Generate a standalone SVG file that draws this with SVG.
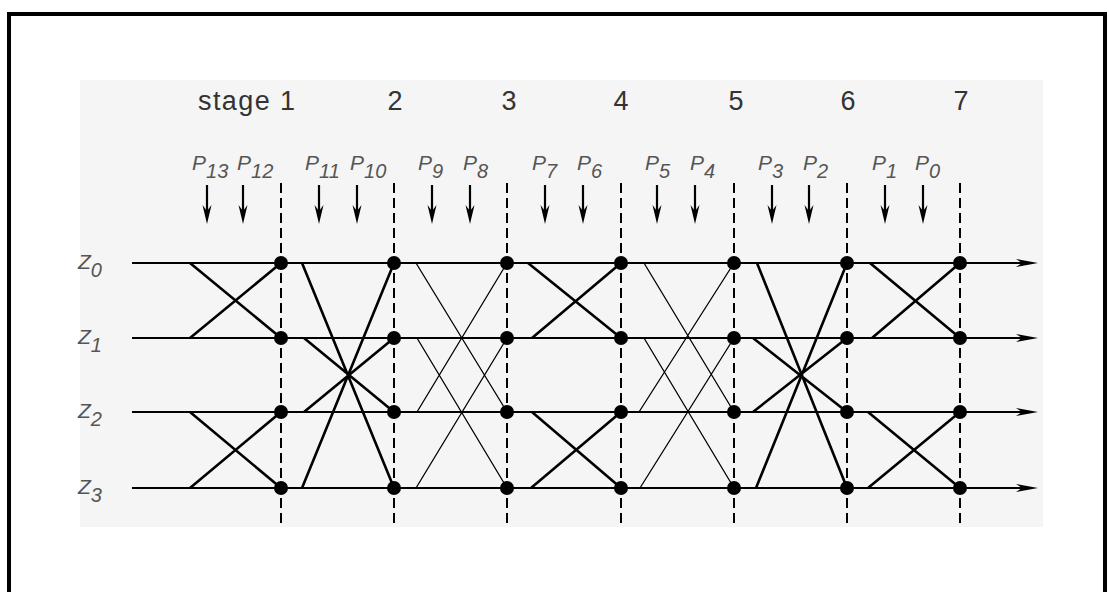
<svg xmlns="http://www.w3.org/2000/svg" xmlns:xlink="http://www.w3.org/1999/xlink" width="1109" height="592" viewBox="0 0 1109 592">
<style>
.frame{fill:none;stroke:#000;stroke-width:4}
.bg{fill:#f5f5f5}
.num{font-family:"Liberation Sans",Arial,sans-serif;font-size:27px;fill:#333}
.lbl{font-family:"Liberation Sans",Arial,sans-serif;font-style:italic;font-size:21px;fill:#555}
.sub{font-size:20px}
.wire{stroke:#000;stroke-width:2.2;fill:none}
.thick{stroke:#000;stroke-width:2.6;fill:none}
.thin{stroke:#000;stroke-width:1.3;fill:none}
.stage{stroke:#000;stroke-width:2;stroke-dasharray:10 5;fill:none}
.dot{fill:#000}
</style>
<defs>
<g id="parrow">
<line x1="0" y1="0" x2="0" y2="30" stroke="#000" stroke-width="2.2"/>
<path d="M-4.5,20 L0,39 L4.5,20 L0,26 Z" fill="#000"/>
</g>
<path id="endarrow" d="M-22,-4 L0,0 L-22,4 L-16,0 Z"/>
</defs>
<rect width="1109" height="592" fill="#fff"/>
<path class="frame" d="M9,600 V14 H1105 V600"/>
<rect class="bg" x="80" y="80" width="963" height="447"/>

<g id="stage-labels">
<text class="num" x="198" y="110" textLength="97" lengthAdjust="spacing">stage 1</text>
<text class="num" x="395" y="110" text-anchor="middle">2</text>
<text class="num" x="509" y="110" text-anchor="middle">3</text>
<text class="num" x="621" y="110" text-anchor="middle">4</text>
<text class="num" x="736" y="110" text-anchor="middle">5</text>
<text class="num" x="848" y="110" text-anchor="middle">6</text>
<text class="num" x="961" y="110" text-anchor="middle">7</text>
</g>

<g id="p-labels">
<text class="lbl" x="192" y="170">P<tspan class="sub" dy="8">13</tspan></text>
<text class="lbl" x="237" y="170">P<tspan class="sub" dy="8">12</tspan></text>
<text class="lbl" x="305" y="170">P<tspan class="sub" dy="8">11</tspan></text>
<text class="lbl" x="350" y="170">P<tspan class="sub" dy="8">10</tspan></text>
<text class="lbl" x="418" y="170">P<tspan class="sub" dy="8">9</tspan></text>
<text class="lbl" x="463" y="170">P<tspan class="sub" dy="8">8</tspan></text>
<text class="lbl" x="532" y="170">P<tspan class="sub" dy="8">7</tspan></text>
<text class="lbl" x="577" y="170">P<tspan class="sub" dy="8">6</tspan></text>
<text class="lbl" x="645" y="170">P<tspan class="sub" dy="8">5</tspan></text>
<text class="lbl" x="690" y="170">P<tspan class="sub" dy="8">4</tspan></text>
<text class="lbl" x="758" y="170">P<tspan class="sub" dy="8">3</tspan></text>
<text class="lbl" x="803" y="170">P<tspan class="sub" dy="8">2</tspan></text>
<text class="lbl" x="872" y="170">P<tspan class="sub" dy="8">1</tspan></text>
<text class="lbl" x="915" y="170">P<tspan class="sub" dy="8">0</tspan></text>
</g>

<g id="p-arrows">
<use xlink:href="#parrow" x="207" y="185"/>
<use xlink:href="#parrow" x="243" y="185"/>
<use xlink:href="#parrow" x="319" y="185"/>
<use xlink:href="#parrow" x="357" y="185"/>
<use xlink:href="#parrow" x="432" y="185"/>
<use xlink:href="#parrow" x="470" y="185"/>
<use xlink:href="#parrow" x="545" y="185"/>
<use xlink:href="#parrow" x="583" y="185"/>
<use xlink:href="#parrow" x="657" y="185"/>
<use xlink:href="#parrow" x="695" y="185"/>
<use xlink:href="#parrow" x="772" y="185"/>
<use xlink:href="#parrow" x="809" y="185"/>
<use xlink:href="#parrow" x="885" y="185"/>
<use xlink:href="#parrow" x="923" y="185"/>
</g>

<g id="z-labels">
<text class="lbl" x="78" y="269">Z<tspan class="sub" dy="8">0</tspan></text>
<text class="lbl" x="78" y="344">Z<tspan class="sub" dy="8">1</tspan></text>
<text class="lbl" x="78" y="418">Z<tspan class="sub" dy="8">2</tspan></text>
<text class="lbl" x="78" y="494">Z<tspan class="sub" dy="8">3</tspan></text>
</g>

<g id="stage-lines">
<line class="stage" x1="281" y1="183" x2="281" y2="528"/>
<line class="stage" x1="394" y1="183" x2="394" y2="528"/>
<line class="stage" x1="507" y1="183" x2="507" y2="528"/>
<line class="stage" x1="621" y1="183" x2="621" y2="528"/>
<line class="stage" x1="734" y1="183" x2="734" y2="528"/>
<line class="stage" x1="847" y1="183" x2="847" y2="528"/>
<line class="stage" x1="960" y1="183" x2="960" y2="528"/>
</g>

<g id="connectors">
<line class="wire" x1="132" y1="263" x2="1022" y2="263"/>
<line class="wire" x1="132" y1="338" x2="1022" y2="338"/>
<line class="wire" x1="132" y1="412" x2="1022" y2="412"/>
<line class="wire" x1="132" y1="488" x2="1022" y2="488"/>
<use xlink:href="#endarrow" x="1038" y="263"/>
<use xlink:href="#endarrow" x="1038" y="338"/>
<use xlink:href="#endarrow" x="1038" y="412"/>
<use xlink:href="#endarrow" x="1038" y="488"/>
<path class="thick" d="M190,263 L281,338 M190,338 L281,263 M190,412 L281,488 M190,488 L281,412"/>
<path class="thick" d="M302,263 L394,488 M302,488 L394,263 M304,338 L394,412 M304,412 L394,338"/>
<path class="thin" d="M416,263 L507,412 M417,412 L507,263 M417,338 L507,488 M416,488 L507,338"/>
<path class="thick" d="M528,263 L621,338 M532,338 L621,263 M532,412 L621,488 M531,488 L621,412"/>
<path class="thin" d="M644,263 L734,412 M639,412 L734,263 M644,338 L734,488 M640,488 L734,338"/>
<path class="thick" d="M757,263 L847,488 M756,488 L847,263 M753,338 L847,412 M753,412 L847,338"/>
<path class="thick" d="M870,263 L960,338 M872,338 L960,263 M868,412 L960,488 M868,488 L960,412"/>
</g>

<g id="nodes">
<g id="n1"><circle class="dot" cx="281" cy="263" r="7"/><circle class="dot" cx="281" cy="338" r="7"/><circle class="dot" cx="281" cy="412" r="7"/><circle class="dot" cx="281" cy="488" r="7"/></g>
<g id="n2"><circle class="dot" cx="394" cy="263" r="7"/><circle class="dot" cx="394" cy="338" r="7"/><circle class="dot" cx="394" cy="412" r="7"/><circle class="dot" cx="394" cy="488" r="7"/></g>
<g id="n3"><circle class="dot" cx="507" cy="263" r="7"/><circle class="dot" cx="507" cy="338" r="7"/><circle class="dot" cx="507" cy="412" r="7"/><circle class="dot" cx="507" cy="488" r="7"/></g>
<g id="n4"><circle class="dot" cx="621" cy="263" r="7"/><circle class="dot" cx="621" cy="338" r="7"/><circle class="dot" cx="621" cy="412" r="7"/><circle class="dot" cx="621" cy="488" r="7"/></g>
<g id="n5"><circle class="dot" cx="734" cy="263" r="7"/><circle class="dot" cx="734" cy="338" r="7"/><circle class="dot" cx="734" cy="412" r="7"/><circle class="dot" cx="734" cy="488" r="7"/></g>
<g id="n6"><circle class="dot" cx="847" cy="263" r="7"/><circle class="dot" cx="847" cy="338" r="7"/><circle class="dot" cx="847" cy="412" r="7"/><circle class="dot" cx="847" cy="488" r="7"/></g>
<g id="n7"><circle class="dot" cx="960" cy="263" r="7"/><circle class="dot" cx="960" cy="338" r="7"/><circle class="dot" cx="960" cy="412" r="7"/><circle class="dot" cx="960" cy="488" r="7"/></g>
</g>
</svg>
